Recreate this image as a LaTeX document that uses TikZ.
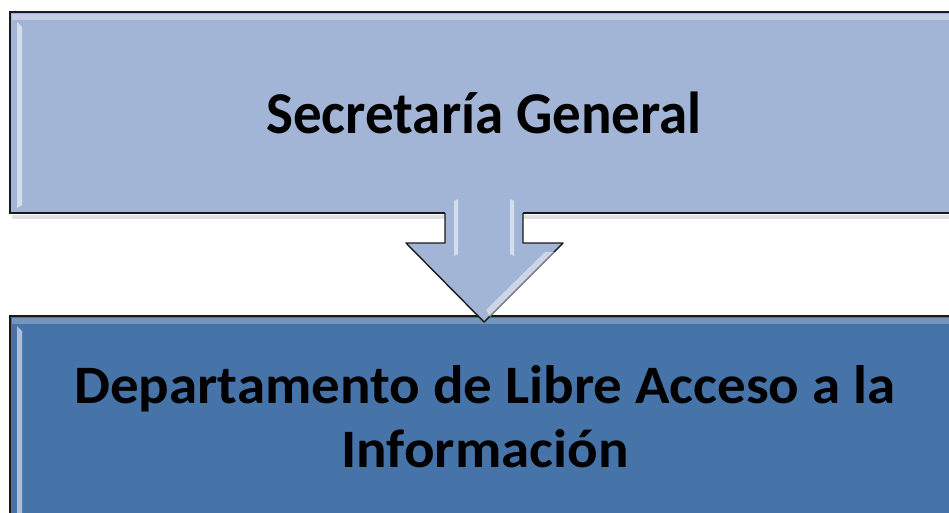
\documentclass[tikz,border=0pt]{standalone}
\usepackage{fontspec}
\setmainfont{Carlito}
\definecolor{topfill}{HTML}{A3B5D6}
\definecolor{botfill}{HTML}{4674A9}
\definecolor{rim}{HTML}{1A1A1A}
\begin{document}
\begin{tikzpicture}[x=1pt,y=-1pt,
  boxstyle/.style={draw=rim,line width=1.6pt},
  shine/.style={fill=white,fill opacity=0.55,draw=none},
  lbl/.style={font=\bfseries\fontsize{57}{64}\selectfont,text=black,inner sep=0pt,align=center}]
\useasboundingbox (0,0) rectangle (949,513);
\clip (0,0) rectangle (949,513);
% shadows
\fill[black!12] (12,215) rectangle (960,219);
% top box
\path[boxstyle,fill=topfill] (10,12) rectangle (960,213);
\fill[white,opacity=0.35] (12,14) rectangle (958,20);
\fill[shine] (17,22) -- (22,27) -- (22,205) -- (17,208) -- cycle;
% bottom box
\path[boxstyle,fill=botfill] (10,316) rectangle (960,530);
\fill[white,opacity=0.25] (12,318) rectangle (958,324);
\fill[shine] (17,326) -- (22,331) -- (22,520) -- (17,520) -- cycle;
% arrow
\coordinate (ta) at (445,200);
\coordinate (tb) at (523,200);
\path[fill=topfill] (ta) -- (445,243) -- (406,243) -- (484,322) -- (563,243) -- (523,243) -- (tb) -- cycle;
\draw[rim,line width=1.4pt,line join=round] (445,213) -- (445,243) -- (406,243) -- (484,322) -- (563,243) -- (523,243) -- (523,213);
\fill[shine] (454,201) -- (458,199) -- (458,254) -- (454,256) -- cycle;
\fill[shine] (510,199) -- (514,201) -- (514,256) -- (510,254) -- cycle;
\fill[white,opacity=0.45] (545,252) -- (555,252) -- (490,317) -- (486,310) -- cycle;
% texts
\node[lbl,anchor=base,yscale=1.04,transform shape] (sec) at (484,134) {Secretaría General};
\node[lbl,anchor=base,yscale=0.95,transform shape] (dep1) at (485,403) {Departamento de Libre Acceso a la};
\node[lbl,anchor=base,yscale=0.95,transform shape] (dep2) at (485,467) {Información};
\end{tikzpicture}
\end{document}
